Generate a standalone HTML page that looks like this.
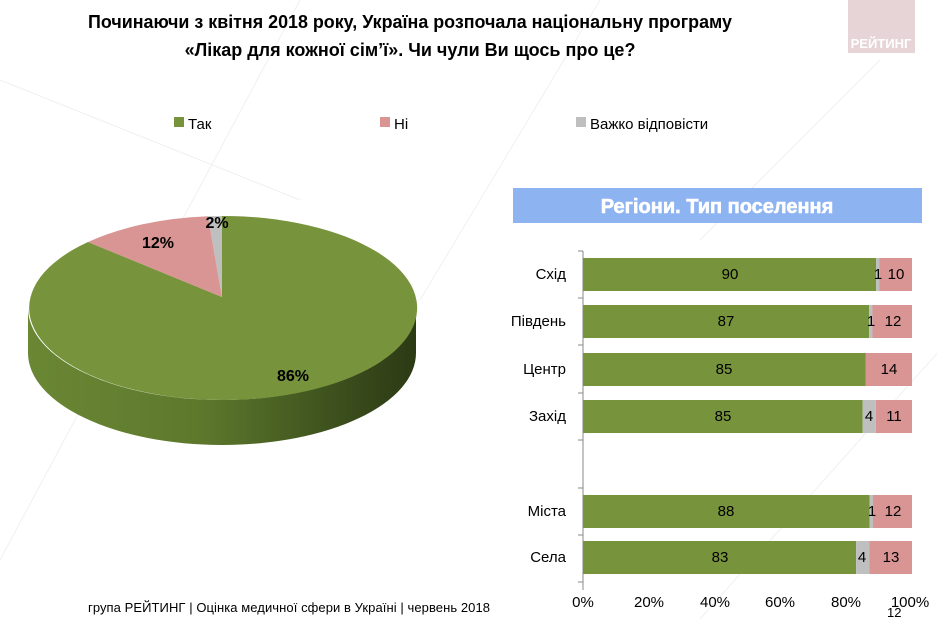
<!DOCTYPE html>
<html><head><meta charset="utf-8"><style>
body{margin:0;width:937px;height:619px;background:#fff;overflow:hidden;font-family:"Liberation Sans",sans-serif}
</style></head><body>
<svg width="937" height="619" xmlns="http://www.w3.org/2000/svg" font-family="Liberation Sans, sans-serif">
<defs>
<linearGradient id="side" x1="0" x2="1" y1="0" y2="0">
<stop offset="0" stop-color="#6a8734"/><stop offset="0.45" stop-color="#5d782c"/><stop offset="0.8" stop-color="#3c4f1d"/><stop offset="1" stop-color="#2c3a14"/>
</linearGradient>
</defs>
<g stroke="#f0f0f0" stroke-width="1">
<line x1="0" y1="80" x2="300" y2="200"/><line x1="600" y1="0" x2="420" y2="300"/><line x1="300" y1="0" x2="0" y2="560"/><line x1="940" y1="350" x2="700" y2="619"/><line x1="880" y1="60" x2="700" y2="240"/>
</g>
<rect x="848" y="0" width="67" height="53" fill="#e6d4d6"/>
<text x="881" y="48" font-size="13" font-weight="bold" fill="#fff" text-anchor="middle">РЕЙТИНГ</text>
<text x="410" y="28" font-size="18" font-weight="bold" text-anchor="middle" textLength="644" lengthAdjust="spacingAndGlyphs">Починаючи з квітня 2018 року, Україна розпочала національну програму</text>
<text x="410" y="56" font-size="18" font-weight="bold" text-anchor="middle">«Лікар для кожної сім’ї». Чи чули Ви щось про це?</text>
<rect x="174" y="117" width="10" height="10" fill="#77933c"/><text x="188" y="129" font-size="15">Так</text>
<rect x="380" y="117" width="10" height="10" fill="#d99594"/><text x="394" y="129" font-size="15">Ні</text>
<rect x="576" y="117" width="10" height="10" fill="#bfbfbf"/><text x="590" y="129" font-size="15">Важко відповісти</text>
<!-- pie -->
<path d="M416,308 A194,92 0 0 1 28,308 L28,353 A194,92 0 0 0 416,353 Z" fill="url(#side)"/>
<path d="M222,297 L222,216 A194,92 0 1 1 88,242 Z" fill="#77933c"/>
<path d="M222,297 L88,242 A194,92 0 0 1 208,216.3 Z" fill="#d99594"/>
<path d="M222,297 L208,216.3 A194,92 0 0 1 222,216 Z" fill="#bfbfbf"/>
<text x="293" y="381" font-size="16" font-weight="bold" text-anchor="middle">86%</text>
<text x="158" y="248" font-size="16" font-weight="bold" text-anchor="middle">12%</text>
<text x="217" y="228" font-size="16" font-weight="bold" text-anchor="middle">2%</text>
<!-- banner -->
<rect x="513" y="188" width="409" height="35" fill="#8db3f0"/>
<text x="717" y="213" font-size="20" font-weight="900" fill="#fff" text-anchor="middle" stroke="#fff" stroke-width="0.6">Регіони. Тип поселення</text>
<!-- axis -->
<g stroke="#888" stroke-width="1">
<line x1="583" y1="251" x2="583" y2="590"/>
<line x1="578" y1="251" x2="583" y2="251"/><line x1="578" y1="298" x2="583" y2="298"/><line x1="578" y1="345" x2="583" y2="345"/><line x1="578" y1="393" x2="583" y2="393"/><line x1="578" y1="440" x2="583" y2="440"/><line x1="578" y1="488" x2="583" y2="488"/><line x1="578" y1="535" x2="583" y2="535"/><line x1="578" y1="582" x2="583" y2="582"/>
</g>
<g font-size="15" text-anchor="middle">
<text x="583" y="607">0%</text><text x="649" y="607">20%</text><text x="715" y="607">40%</text><text x="780" y="607">60%</text><text x="846" y="607">80%</text><text x="910" y="607">100%</text>
</g>
<g font-size="15">
<g text-anchor="end"><text x="566" y="279">Схід</text><text x="566" y="326">Південь</text><text x="566" y="374">Центр</text><text x="566" y="421">Захід</text><text x="566" y="516">Міста</text><text x="566" y="562">Села</text></g>
<!-- Схід -->
<rect x="583" y="258" width="293.2" height="33" fill="#77933c"/><rect x="876.2" y="258" width="3.3" height="33" fill="#bfbfbf"/><rect x="879.5" y="258" width="32.5" height="33" fill="#d99594"/>
<!-- Південь -->
<rect x="583" y="305" width="286.2" height="33" fill="#77933c"/><rect x="869.2" y="305" width="3.3" height="33" fill="#bfbfbf"/><rect x="872.5" y="305" width="39.5" height="33" fill="#d99594"/>
<!-- Центр -->
<rect x="583" y="353" width="282.5" height="33" fill="#77933c"/><rect x="865.5" y="353" width="46.5" height="33" fill="#d99594"/>
<!-- Захід -->
<rect x="583" y="400" width="279.7" height="33" fill="#77933c"/><rect x="862.7" y="400" width="13.1" height="33" fill="#bfbfbf"/><rect x="875.8" y="400" width="36.2" height="33" fill="#d99594"/>
<!-- Міста -->
<rect x="583" y="495" width="286.7" height="33" fill="#77933c"/><rect x="869.7" y="495" width="3.3" height="33" fill="#bfbfbf"/><rect x="873" y="495" width="39" height="33" fill="#d99594"/>
<!-- Села -->
<rect x="583" y="541" width="273.1" height="33" fill="#77933c"/><rect x="856.1" y="541" width="13.1" height="33" fill="#bfbfbf"/><rect x="869.2" y="541" width="42.8" height="33" fill="#d99594"/>
<g text-anchor="middle">
<text x="730" y="279">90</text><text x="878" y="279">1</text><text x="896" y="279">10</text>
<text x="726" y="326">87</text><text x="871" y="326">1</text><text x="893" y="326">12</text>
<text x="724" y="374">85</text><text x="889" y="374">14</text>
<text x="723" y="421">85</text><text x="869" y="421">4</text><text x="894" y="421">11</text>
<text x="726" y="516">88</text><text x="872" y="516">1</text><text x="893" y="516">12</text>
<text x="720" y="562">83</text><text x="862" y="562">4</text><text x="891" y="562">13</text>
</g>
</g>
<text x="88" y="612" font-size="13" textLength="402" lengthAdjust="spacing">група РЕЙТИНГ  |  Оцінка медичної сфери в Україні  |  червень 2018</text>
<text x="887" y="617" font-size="13">12</text>
</svg>
</body></html>
